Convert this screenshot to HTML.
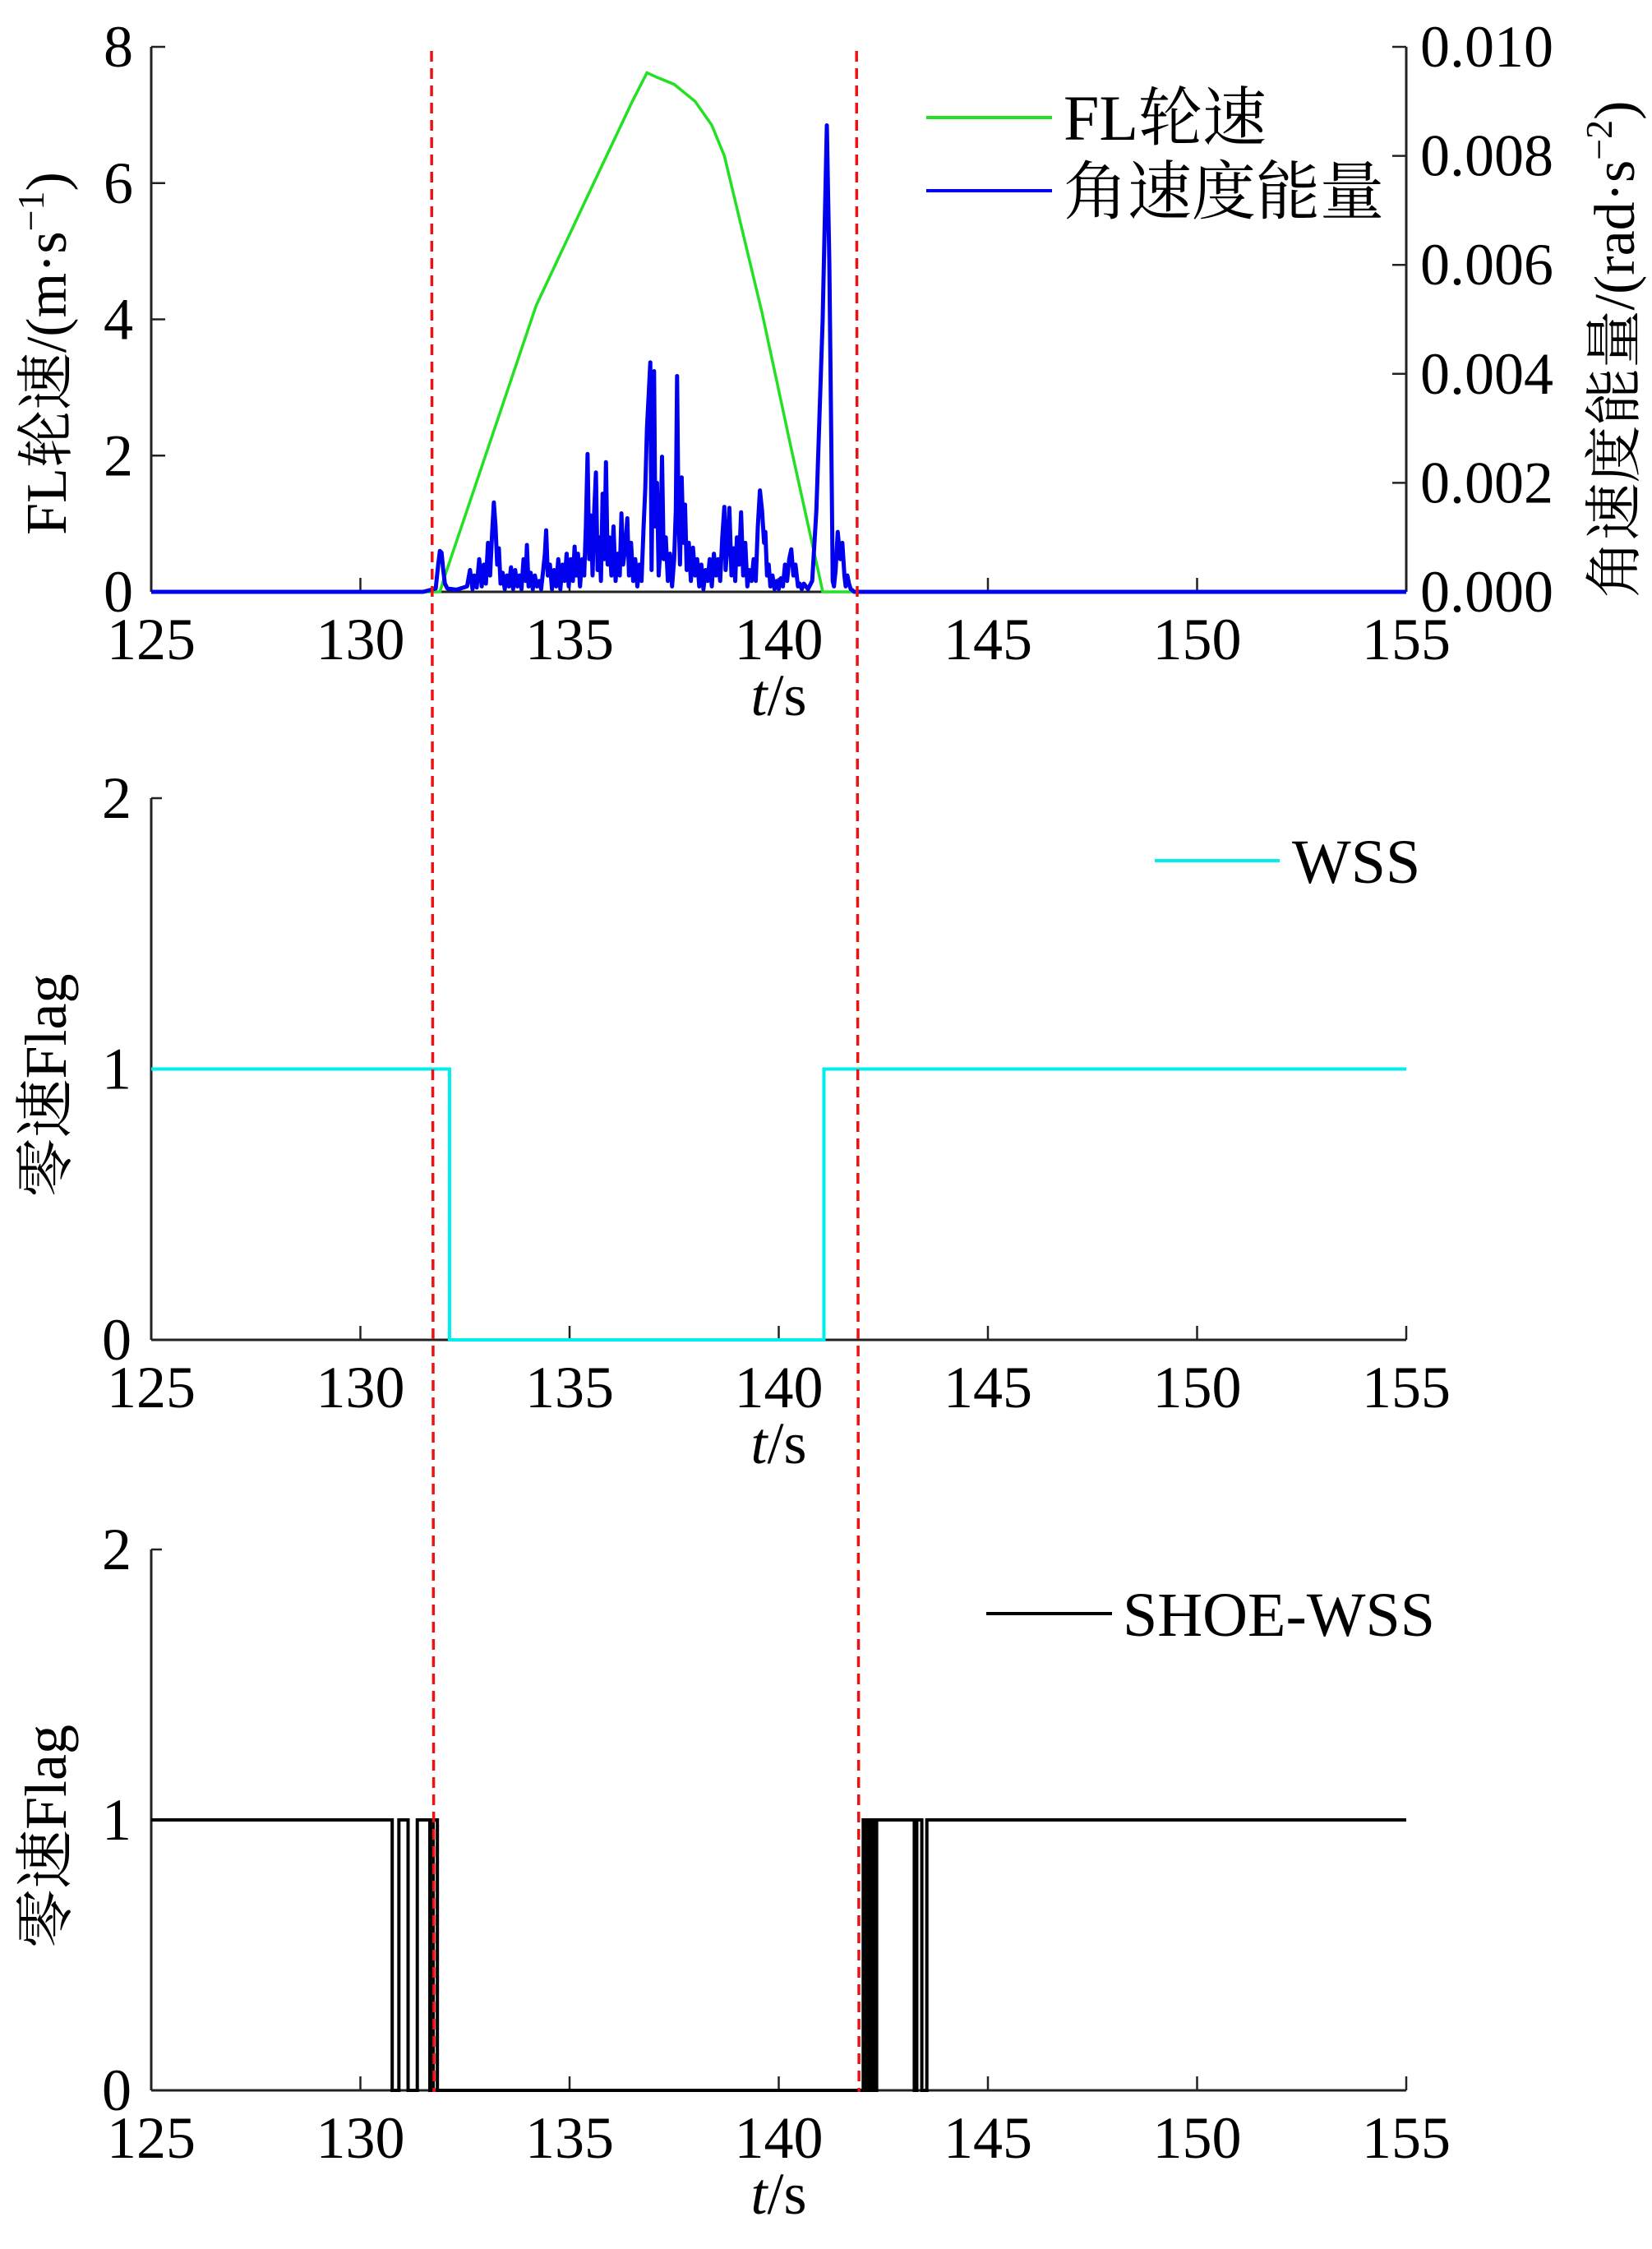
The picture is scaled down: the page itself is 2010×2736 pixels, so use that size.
<!DOCTYPE html>
<html><head><meta charset="utf-8"><style>
html,body{margin:0;padding:0;background:#fff;}
svg{display:block;font-family:"Liberation Serif","Noto Serif CJK SC",serif;}
</style></head><body>
<svg id="fig" width="2010" height="2736" viewBox="0 0 2010 2736" xmlns="http://www.w3.org/2000/svg"></svg>
<script>
// ---- data ----
const xTicks = [125,130,135,140,145,150,155];
const leftTicks1 = [0,2,4,6,8];
const rightTickLabels = ["0.000","0.002","0.004","0.006","0.008","0.010"];
const flagTicks = [0,1,2];
const flSpeedT = [125,131.9,132.0,134.2,135.5,136.5,136.85,137.1,137.5,138.0,138.4,138.7,139.6,140.3,141.0,141.05,155];
const flSpeedV = [0,0,0.2,4.2,5.9,7.2,7.62,7.55,7.45,7.2,6.85,6.4,4.1,2.1,0.15,0,0];
const energyT = [125,131.5,131.8,131.86,131.9,131.94,131.98,132.02,132.08,132.3,132.55,132.62,132.68,132.72,132.78,132.84,132.9,132.95,133.0,133.05,133.1,133.15,133.19,133.23,133.27,133.31,133.35,133.4,133.45,133.5,133.55,133.6,133.65,133.7,133.75,133.8,133.85,133.9,133.95,133.98,134.02,134.07,134.12,134.17,134.22,134.27,134.32,134.37,134.41,134.44,134.48,134.53,134.58,134.63,134.68,134.73,134.78,134.83,134.88,134.93,134.98,135.03,135.08,135.12,135.16,135.2,135.25,135.3,135.35,135.39,135.43,135.47,135.51,135.55,135.59,135.63,135.67,135.71,135.75,135.79,135.83,135.87,135.91,135.95,136.0,136.05,136.1,136.15,136.2,136.24,136.28,136.33,136.38,136.42,136.47,136.52,136.57,136.62,136.67,136.72,136.77,136.81,136.85,136.89,136.93,136.96,136.99,137.02,137.05,137.09,137.13,137.17,137.21,137.25,137.3,137.35,137.4,137.45,137.5,137.54,137.57,137.6,137.64,137.68,137.72,137.76,137.8,137.85,137.9,137.95,138.0,138.05,138.1,138.15,138.2,138.25,138.3,138.35,138.4,138.45,138.5,138.55,138.6,138.65,138.7,138.73,138.77,138.82,138.87,138.92,138.96,139.0,139.05,139.1,139.15,139.2,139.25,139.3,139.35,139.4,139.45,139.5,139.55,139.6,139.65,139.68,139.72,139.76,139.8,139.85,139.9,139.95,140.0,140.05,140.1,140.15,140.2,140.25,140.3,140.35,140.4,140.46,140.5,140.55,140.6,140.7,140.8,140.9,141.05,141.15,141.21,141.26,141.29,141.32,141.36,141.41,141.47,141.52,141.57,141.6,141.64,141.68,141.72,141.76,141.8,141.86,141.95,142.05,155];
// energy in units of 1e-3 rad·s^-2
const energyV = [0,0,0.06,0.5,0.75,0.72,0.4,0.15,0.06,0.04,0.1,0.4,0.05,0.3,0.08,0.6,0.1,0.5,0.15,0.9,0.3,1.1,1.64,1.2,0.5,0.8,0.15,0.35,0.05,0.3,0.1,0.45,0.05,0.4,0.1,0.3,0.05,0.6,0.2,0.86,0.1,0.35,0.05,0.3,0.1,0.2,0.05,0.4,0.7,1.13,0.3,0.5,0.05,0.4,0.1,0.6,0.05,0.5,0.2,0.7,0.1,0.6,0.2,0.83,0.3,0.7,0.1,0.6,0.3,1.2,2.53,0.6,1.4,0.3,1.5,2.19,0.4,1.0,0.2,1.8,0.6,2.38,0.5,1.0,0.3,1.2,0.2,0.7,0.3,1.44,0.5,0.8,1.35,0.3,0.9,0.2,0.6,0.1,0.5,0.2,1.2,1.9,3.0,3.6,4.21,0.4,2.5,4.05,1.2,2.0,0.3,0.8,2.48,0.6,1.0,0.2,0.7,0.1,0.6,1.5,3.96,1.6,0.5,2.1,0.9,1.6,0.4,0.9,0.2,0.81,0.3,0.6,0.1,0.5,0.05,0.4,0.2,0.6,0.1,0.7,0.3,0.6,0.2,1.0,1.56,0.4,0.8,1.54,0.3,0.8,0.2,1.0,0.5,1.46,0.3,0.9,0.1,0.4,0.2,0.6,0.2,1.2,1.86,1.5,0.9,1.1,0.3,0.5,0.1,0.3,0.05,0.2,0.05,0.25,0.1,0.5,0.2,0.6,0.78,0.3,0.5,0.1,0.15,0.05,0.15,0.05,0.2,1.5,5.0,8.56,6.0,2.5,0.2,0.1,0.4,1.1,0.6,0.9,0.3,0.1,0.3,0.15,0.05,0.03,0,0];
const wssT = [125,132.13,141.08,155];
const wssV = [1,0,1,1];
const shoeStart = 1;
const shoeFlips = [130.76,130.92,131.14,131.36,131.66,131.74,131.84,142.02,142.06,142.10,142.16,142.22,142.28,142.34,143.24,143.30,143.42,143.54];
const dashT = [131.7,141.86];

// ---- layout ----
const X0=184, X1=1711;
const sx = t => X0 + (t-125)/30*(X1-X0);
const P1={top:57,bot:720}, P2={top:971,bot:1630}, P3={top:1885,bot:2543};
const y1 = v => P1.bot - v/8*(P1.bot-P1.top);
const yE = e => P1.bot - e/10*(P1.bot-P1.top);
const yF = (P,v) => P.bot - v/2*(P.bot-P.top);
const svg=document.getElementById('fig');
const NS="http://www.w3.org/2000/svg";
function mk(tag,attrs,parent){const e=document.createElementNS(NS,tag);for(const k in attrs)e.setAttribute(k,attrs[k]);(parent||svg).appendChild(e);return e;}
function txt(s,x,y,size,anchor,parent){const e=mk('text',{x:x,y:y,'font-size':size,'text-anchor':anchor||'middle',fill:'#000'},parent);e.textContent=s;return e;}

function axes(P,name,rightAxis){
  const g=mk('g',{});
  
  
  mk('line',{x1:X0,y1:P.top,x2:X0,y2:P.bot,stroke:'#222','stroke-width':3},g);
  mk('line',{x1:X0,y1:P.bot,x2:X1,y2:P.bot,stroke:'#222','stroke-width':3},g);
  if(rightAxis) mk('line',{x1:X1,y1:P.top,x2:X1,y2:P.bot,stroke:'#222','stroke-width':3},g);
  xTicks.forEach(t=>{
    mk('line',{x1:sx(t),y1:P.bot,x2:sx(t),y2:P.bot-17,stroke:'#222','stroke-width':2.5},g);
    const e=txt(String(t),sx(t),P.bot+82,72,'middle',g);
    
    
  });
  const xt=mk('text',{x:X0+(X1-X0)/2,y:P.bot+150,'font-size':72,'text-anchor':'middle'},g);
  
  
  xt.innerHTML='<tspan font-style="italic">t</tspan>/s';
  return g;
}

// Plot 1
const g1=axes(P1,'speed-plot',true);
leftTicks1.forEach(v=>{
  mk('line',{x1:X0,y1:y1(v),x2:X0+17,y2:y1(v),stroke:'#222','stroke-width':2.5},g1);
  const e=txt(String(v),162,y1(v)+24,72,'end',g1);
  
  
});
rightTickLabels.forEach(s=>{
  const v=parseFloat(s)*1000;
  mk('line',{x1:X1,y1:yE(v),x2:X1-17,y2:yE(v),stroke:'#222','stroke-width':2.5},g1);
  const e=txt(s,1728,yE(v)+24,72,'start',g1);
  
  
});
const yl1=mk('text',{transform:'translate(80,430) rotate(-90)','font-size':70,'text-anchor':'middle'});


yl1.innerHTML='FL轮速/(m·s<tspan font-size="46" dy="-27">−1</tspan><tspan dy="27">)</tspan>';
const yr1=mk('text',{transform:'translate(1988,425) rotate(-90)','font-size':70,'text-anchor':'middle'});


yr1.innerHTML='角速度能量/(rad·s<tspan font-size="46" dy="-27">−2</tspan><tspan dy="27">)</tspan>';

const green=mk('polyline',{points:flSpeedT.map((t,i)=>sx(t)+','+y1(flSpeedV[i])).join(' '),fill:'none',stroke:'#22e022','stroke-width':3.5});


const bluePts=[];
let lastE=0;
energyT.forEach((t,i)=>{ if(energyV[i]!==undefined){ lastE=energyV[i]; bluePts.push(sx(t)+','+yE(energyV[i])); } });
bluePts.push(sx(155)+','+yE(lastE));
const blue=mk('polyline',{points:bluePts.join(' '),fill:'none',stroke:'#0000ee','stroke-width':5,'stroke-linejoin':'round'});



const lg1=mk('g',{});


mk('line',{x1:1127,y1:143,x2:1280,y2:143,stroke:'#22e022','stroke-width':4},lg1);
txt('FL轮速',1294,170,78,'start',lg1);
mk('line',{x1:1127,y1:232,x2:1280,y2:232,stroke:'#0000ee','stroke-width':4},lg1);
txt('角速度能量',1294,260,78,'start',lg1);

// Plot 2
const g2=axes(P2,'wss-plot',false);
function flagTicksFor(P,g){
  flagTicks.forEach(v=>{
    mk('line',{x1:X0,y1:yF(P,v),x2:X0+13,y2:yF(P,v),stroke:'#222','stroke-width':2.5},g);
    const e=txt(String(v),160,yF(P,v)+24,72,'end',g);
    
    
  });
  const yl=mk('text',{transform:'translate(80,'+((P.top+P.bot)/2+20)+') rotate(-90)','font-size':72,'text-anchor':'middle'},g);
  
  
  yl.textContent='零速Flag';
}
flagTicksFor(P2,g2);
let d='';
wssT.forEach((t,i)=>{ if(i===0) d+='M'+sx(t)+','+yF(P2,wssV[0]); else d+=' H'+sx(t)+' V'+yF(P2,wssV[i]); });
const wss=mk('path',{d:d,fill:'none',stroke:'#00eeee','stroke-width':4});


const lg2=mk('g',{});


mk('line',{x1:1405,y1:1047,x2:1557,y2:1047,stroke:'#00eeee','stroke-width':4},lg2);
txt('WSS',1572,1074,76,'start',lg2);

// Plot 3
const g3=axes(P3,'shoe-wss-plot',false);
flagTicksFor(P3,g3);
let s=shoeStart, d3='M'+sx(125)+','+yF(P3,s);
shoeFlips.forEach(t=>{ s=1-s; d3+=' H'+sx(t)+' V'+yF(P3,s); });
d3+=' H'+sx(155);
const shoe=mk('path',{d:d3,fill:'none',stroke:'#000','stroke-width':4});


const lg3=mk('g',{});


mk('line',{x1:1200,y1:1963,x2:1353,y2:1963,stroke:'#000','stroke-width':4},lg3);
txt('SHOE-WSS',1366,1990,76,'start',lg3);

// red dashed markers
dashT.forEach(t=>{
  const l=mk('line',{x1:sx(t),y1:62,x2:sx(t)+3,y2:2545,stroke:'#ee1111','stroke-width':3.5,'stroke-dasharray':'13 8'});
  
  
});
</script>
</body></html>
